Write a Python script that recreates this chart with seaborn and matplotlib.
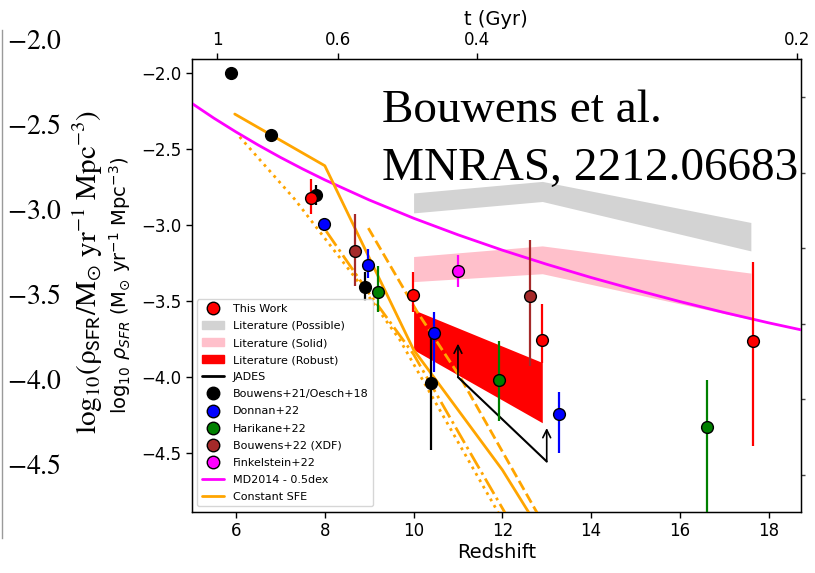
import matplotlib
matplotlib.use("Agg")
import matplotlib.pyplot as plt
from matplotlib.lines import Line2D
from matplotlib.patches import Patch
import seaborn as sns

sns.set_style("ticks", rc={"axes.edgecolor": "black", "xtick.color": "black",
                           "ytick.color": "black", "text.color": "black",
                           "axes.labelcolor": "black"})
plt.rcParams["font.family"] = ["DejaVu Sans"]

# ---------------- data ----------------
# MD2014 cosmic SFR density, shifted down by 0.5 dex
md_z = [5.0, 5.5, 6.0, 6.5, 7.0, 7.5, 8.0, 9.0, 10.0, 11.0, 12.0, 13.0,
        14.0, 15.0, 16.0, 17.0, 18.0, 18.73]
md_logrho = [-2.199, -2.297, -2.388, -2.474, -2.555, -2.631, -2.703, -2.835,
             -2.955, -3.064, -3.165, -3.258, -3.345, -3.426, -3.503, -3.575,
             -3.643, -3.689]

# constant star-formation-efficiency model tracks
sfe_solid_z = [5.97, 8.0, 10.0, 12.0, 13.0]
sfe_solid = [-2.27, -2.61, -3.82, -4.61, -5.08]
sfe_dashed_z = [8.98, 10.08, 11.05, 12.75, 13.0]
sfe_dashed = [-3.02, -3.57, -4.0, -4.875, -5.0]
sfe_dotted_z = [6.08, 7.32, 8.72, 9.69, 11.9, 12.2]
sfe_dotted = [-2.42, -2.83, -3.36, -3.755, -4.887, -5.04]
sfe_dashdot_z = [8.03, 9.0, 10.0, 11.4, 12.05, 12.3]
sfe_dashdot = [-3.04, -3.45, -3.85, -4.56, -4.887, -5.0]

# literature bands
band_z = [10.0, 12.9, 17.6]
possible_hi = [-2.789, -2.713, -2.983]
possible_lo = [-2.92, -2.845, -3.17]
solid_hi = [-3.207, -3.137, -3.316]
solid_lo = [-3.372, -3.32, -3.62]
robust_z = [10.0, 12.9]
robust_hi = [-3.557, -3.904]
robust_lo = [-3.82, -4.30]

# JADES lower limits
jades_z = [11.0, 13.0]
jades_logrho = [-4.0, -4.555]

# measurements: redshift, log SFRD, lower error, upper error
this_z = [7.68, 9.99, 12.9, 17.64]
this_y = [-2.82, -3.46, -3.755, -3.76]
this_lo = [0.11, 0.11, 0.15, 0.69]
this_hi = [0.12, 0.15, 0.235, 0.52]

b21_z = [5.88, 6.78, 7.8, 8.9, 10.4]
b21_y = [-2.0, -2.41, -2.805, -3.41, -4.04]
b21_lo = [0.02, 0.03, 0.065, 0.09, 0.44]
b21_hi = [0.02, 0.03, 0.07, 0.10, 0.35]

don_z = [7.99, 8.98, 10.45, 13.27]
don_y = [-2.99, -3.26, -3.71, -4.24]
don_lo = [0.04, 0.09, 0.255, 0.26]
don_hi = [0.03, 0.10, 0.14, 0.14]

har_z = [9.2, 11.92, 16.62]
har_y = [-3.44, -4.02, -4.325]
har_lo = [0.135, 0.27, 0.70]
har_hi = [0.17, 0.26, 0.305]

xdf_z = [8.69, 12.62]
xdf_y = [-3.17, -3.465]
xdf_lo = [0.23, 0.465]
xdf_hi = [0.24, 0.365]

fin_z = [11.0]
fin_y = [-3.305]
fin_lo = [0.105]
fin_hi = [0.105]

# cosmic time axis (labels placed at their redshifts)
t_tick_z = [5.57, 8.29, 11.42, 18.65]
t_tick_labels = ["1", "0.6", "0.4", "0.2"]

outer_ticks = [-2.0, -2.5, -3.0, -3.5, -4.0, -4.5]
inner_ticks = [-2.0, -2.5, -3.0, -3.5, -4.0, -4.5]

# ---------------- figure ----------------
W, H = 815, 573
fig = plt.figure(figsize=(W / 100, H / 100), dpi=100)


def px_rect(x0, y0, x1, y1):
    return [x0 / W, 1 - y1 / H, (x1 - x0) / W, (y1 - y0) / H]


# outer serif axis on the far left
ax_l = fig.add_axes(px_rect(0, 30, 2, 538))
ax_l.set_ylim(-4.941, -1.953)
ax_l.set_xticks([])
for s in ("left", "top", "bottom"):
    ax_l.spines[s].set_visible(False)
ax_l.spines["right"].set_color("#9a9a9a")
ax_l.spines["right"].set_linewidth(1.0)
ax_l.yaxis.tick_right()
ax_l.set_yticks(outer_ticks)
ax_l.set_yticklabels([f"${v:.1f}$" for v in outer_ticks], fontsize=20,
                     math_fontfamily="stix")
ax_l.tick_params(axis="y", length=0, pad=3.6)
ax_l.patch.set_visible(False)

fig.text(88 / W, 1 - 272 / H,
         r"$\mathrm{log_{10}(\rho_{\mathsf{SFR}}/M_{\odot}\ yr^{-1}\ Mpc^{-3})}$",
         rotation=90, ha="center", va="center", fontsize=21,
         math_fontfamily="stix")

# right-hand ticks of the outer axis
ax_r = fig.add_axes(px_rect(191.7, 59, 801, 540))
ax_r.set_ylim(-2.0 - (540 - 97) / 151.2, -2.0 + (97 - 59) / 151.2)
ax_r.set_xticks([])
for s in ("left", "top", "bottom", "right"):
    ax_r.spines[s].set_visible(False)
ax_r.yaxis.tick_right()
ax_r.set_yticks(inner_ticks)
ax_r.set_yticklabels([])
ax_r.tick_params(axis="y", length=3, width=1, color="#444444")
ax_r.patch.set_visible(False)

# main panel
ax = fig.add_axes(px_rect(191.7, 59, 801, 512))
ax.patch.set_visible(False)
ax.set_xlim(5.0, 18.73)
ax.set_ylim(-4.887, -1.908)

ax.fill_between(band_z, possible_lo, possible_hi, color="lightgray", lw=0, zorder=1)
ax.fill_between(band_z, solid_lo, solid_hi, color="pink", lw=0, zorder=1)
ax.fill_between(robust_z, robust_lo, robust_hi, color="red", lw=0, zorder=1)

sns.lineplot(x=md_z, y=md_logrho, color="magenta", lw=2, ax=ax,
             estimator=None, sort=False, zorder=3)
for zz, yy, ls in ((sfe_solid_z, sfe_solid, "-"),
                   (sfe_dashed_z, sfe_dashed, "--"),
                   (sfe_dotted_z, sfe_dotted, ":"),
                   (sfe_dashdot_z, sfe_dashdot, "-.")):
    sns.lineplot(x=zz, y=yy, color="orange", lw=2, linestyle=ls, ax=ax,
                 estimator=None, sort=False, zorder=3)

sns.lineplot(x=jades_z, y=jades_logrho, color="black", lw=1.5, ax=ax,
             estimator=None, sort=False, zorder=3)
for zz, yy in zip(jades_z, jades_logrho):
    ax.annotate("", xy=(zz, yy + 0.22), xytext=(zz, yy),
                arrowprops=dict(arrowstyle="->", color="black", lw=1.2,
                                shrinkA=0, shrinkB=0, mutation_scale=14),
                zorder=3)

surveys = [
    (b21_z, b21_y, b21_lo, b21_hi, "black"),
    (don_z, don_y, don_lo, don_hi, "blue"),
    (har_z, har_y, har_lo, har_hi, "green"),
    (xdf_z, xdf_y, xdf_lo, xdf_hi, "brown"),
    (fin_z, fin_y, fin_lo, fin_hi, "magenta"),
    (this_z, this_y, this_lo, this_hi, "red"),
]
for zz, yy, lo, hi, c in surveys:
    ax.errorbar(zz, yy, yerr=[lo, hi], fmt="none", ecolor=c, elinewidth=1.6,
                capsize=0, zorder=4)
    sns.scatterplot(x=zz, y=yy, color=c, edgecolor="black", linewidth=1,
                    s=72, ax=ax, zorder=5, legend=False)

ax.set_xticks([6, 8, 10, 12, 14, 16, 18])
ax.set_yticks(inner_ticks)
ax.tick_params(axis="both", labelsize=12, length=4, width=1, direction="out",
               top=False, right=False)
ax.set_xlabel("Redshift", fontsize=14, labelpad=2)
ax.set_ylabel(r"$\log_{10}\,\rho_{SFR}$ (M$_{\odot}$ yr$^{-1}$ Mpc$^{-3}$)",
              fontsize=14, labelpad=6)
for s in ax.spines.values():
    s.set_linewidth(1.0)


def dot(c):
    return Line2D([], [], ls="none", marker="o", ms=9, mfc=c, mec="black", mew=1)


handles = [
    dot("red"),
    Patch(color="lightgray"), Patch(color="pink"), Patch(color="red"),
    Line2D([], [], color="black", lw=2),
    dot("black"), dot("blue"), dot("green"), dot("brown"), dot("magenta"),
    Line2D([], [], color="magenta", lw=2),
    Line2D([], [], color="orange", lw=2),
]
labels = ["This Work", "Literature (Possible)", "Literature (Solid)",
          "Literature (Robust)", "JADES", "Bouwens+21/Oesch+18", "Donnan+22",
          "Harikane+22", "Bouwens+22 (XDF)", "Finkelstein+22",
          "MD2014 - 0.5dex", "Constant SFE"]
leg = ax.legend(handles, labels, loc="lower left", fontsize=8,
                labelspacing=0.64, handlelength=2.0, borderaxespad=0.5)
leg.set_zorder(6)

# cosmic time along the top
ax_t = ax.twiny()
ax_t.set_xlim(ax.get_xlim())
ax_t.set_xticks(t_tick_z)
ax_t.set_xticklabels(t_tick_labels)
ax_t.tick_params(axis="x", labelsize=12, length=4, width=1)
ax_t.set_xlabel("t (Gyr)", fontsize=14, labelpad=4)

fig.text(381.7 / W, 1 - 122 / H, "Bouwens et al.", family="Liberation Serif",
         fontsize=34, va="baseline", ha="left")
fig.text(381.7 / W, 1 - 180 / H, "MNRAS, 2212.06683", family="Liberation Serif",
         fontsize=34, va="baseline", ha="left")

fig.savefig("out.png", dpi=100)
